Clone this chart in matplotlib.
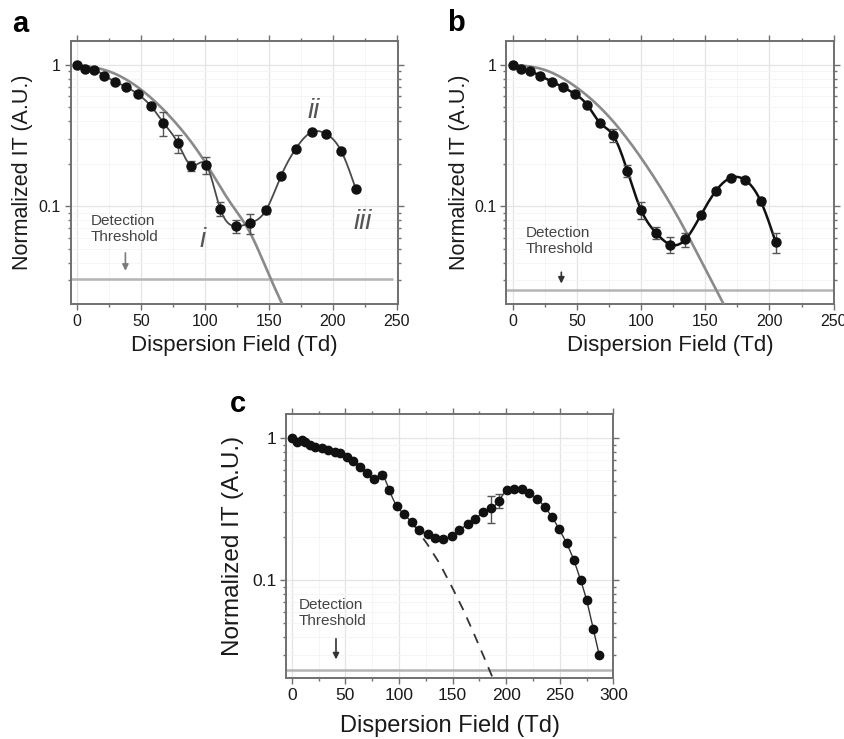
import numpy as np
import matplotlib
matplotlib.use('Agg')
import matplotlib.pyplot as plt
from matplotlib.ticker import MultipleLocator, LogLocator, NullFormatter

plt.rcParams['font.family'] = ['Liberation Sans', 'DejaVu Sans']

# ---------------- data ----------------
# panel a
a_x = [0, 6.5, 13.8, 21.6, 30, 38.5, 47.7, 58, 67.7, 78.9, 89.6, 101.3, 112, 124.2,
       135.4, 147.7, 159.4, 171, 183.6, 194.5, 206.3, 218]
a_y = [1.0, 0.937, 0.92, 0.84, 0.76, 0.70, 0.62, 0.51, 0.39, 0.28, 0.194, 0.195, 0.0964,
       0.0723, 0.0762, 0.0937, 0.163, 0.255, 0.335, 0.326, 0.248, 0.132]
a_err = [0.01, 0.012, 0.012, 0.012, 0.012, 0.012, 0.012, 0.015, 0.075, 0.04, 0.015, 0.027,
         0.011, 0.008, 0.012, 0.005, 0.004, 0.005, 0.006, 0.006, 0.005, 0.003]
a_model_x = [0, 25, 50, 75, 100, 120, 135, 150, 162]
a_model_y = [1.0, 0.90, 0.67, 0.41, 0.207, 0.106, 0.066, 0.033, 0.0190]
a_thresh = 0.0307

# panel b
b_x = [0, 6.7, 13.8, 21.5, 30.4, 39.2, 48.3, 57.9, 68.3, 78.1, 89.3, 99.9, 111.6, 122.8,
       134.5, 146.4, 158.1, 169.8, 181.2, 193.1, 204.8]
b_y = [1.0, 0.937, 0.90, 0.836, 0.762, 0.695, 0.623, 0.523, 0.386, 0.319, 0.178, 0.0947,
       0.065, 0.0537, 0.0583, 0.0863, 0.128, 0.159, 0.153, 0.109, 0.0558]
b_err = [0.01, 0.012, 0.012, 0.012, 0.012, 0.012, 0.012, 0.015, 0.015, 0.032, 0.017, 0.013,
         0.006, 0.007, 0.0065, 0.004, 0.005, 0.005, 0.006, 0.006, 0.009]
b_model_x = [0, 25, 50, 75, 100, 120, 135, 150, 166]
b_model_y = [1.0, 0.92, 0.69, 0.43, 0.22, 0.115, 0.066, 0.036, 0.0190]
b_thresh = 0.0257

# panel c
c_x = [0, 4.7, 9.3, 12.4, 17.1, 21.7, 28, 34.2, 40.4, 45, 51.3, 57.5, 63.7, 70, 76.8, 84,
       91, 98, 104.8, 111.9, 119, 126.8, 134, 141.1, 149.2, 156.4, 164.1, 171.3, 178.7,
       185.9, 193.3, 200.5, 207.6, 214.5, 221.6, 229.1, 236.2, 243, 249.6, 256.4, 263.2,
       269.5, 275.1, 281.3, 286.9]
c_y = [1.0, 0.946, 0.973, 0.946, 0.897, 0.873, 0.85, 0.827, 0.805, 0.784, 0.742, 0.695,
       0.63, 0.572, 0.513, 0.551, 0.432, 0.333, 0.292, 0.255, 0.225, 0.21, 0.199, 0.195,
       0.205, 0.225, 0.247, 0.268, 0.304, 0.321, 0.363, 0.432, 0.441, 0.436, 0.409, 0.373,
       0.326, 0.277, 0.228, 0.182, 0.138, 0.1, 0.0722, 0.0451, 0.0296]
c_err = ([0.012] * 15 + [0.03, 0.02] + [0.006] * 12 + [0.07, 0.04] + [0.006] * 7
         + [0.004] * 3 + [0.002, 0.0015, 0.001, 0.0008])
c_model_x = [113, 127, 138, 150, 160, 170, 180, 190]
c_model_y = [0.25, 0.177, 0.131, 0.088, 0.062, 0.042, 0.028, 0.0185]
c_thresh = 0.0235

roman_labels = ['i', 'ii', 'iii']
roman_x = [98, 185, 223]
roman_y = [0.058, 0.469, 0.078]


# ---------------- helpers ----------------
def spline(x, y, n=500):
    """Natural cubic spline through points, in (x, log10 y) space (line style)."""
    x = np.asarray(x, float)
    ly = np.log10(np.asarray(y, float))
    m = len(x)
    h = np.diff(x)
    A = np.zeros((m, m))
    r = np.zeros(m)
    A[0, 0] = A[-1, -1] = 1.0
    for i in range(1, m - 1):
        A[i, i - 1] = h[i - 1]
        A[i, i] = 2 * (h[i - 1] + h[i])
        A[i, i + 1] = h[i]
        r[i] = 6 * ((ly[i + 1] - ly[i]) / h[i] - (ly[i] - ly[i - 1]) / h[i - 1])
    M = np.linalg.solve(A, r)
    xs = np.linspace(x[0], x[-1], n)
    idx = np.clip(np.searchsorted(x, xs) - 1, 0, m - 2)
    x0, x1 = x[idx], x[idx + 1]
    hh = x1 - x0
    t0, t1 = x1 - xs, xs - x0
    ys = (M[idx] * t0 ** 3 / (6 * hh) + M[idx + 1] * t1 ** 3 / (6 * hh)
          + (ly[idx] / hh - M[idx] * hh / 6) * t0 + (ly[idx + 1] / hh - M[idx + 1] * hh / 6) * t1)
    return xs, 10 ** ys


def style(ax, xlim, tick_fs):
    ax.set_yscale('log')
    ax.set_xlim(*xlim)
    ax.set_ylim(0.0204, 1.48)
    ax.xaxis.set_major_locator(MultipleLocator(50))
    ax.xaxis.set_minor_locator(MultipleLocator(25))
    ax.set_yticks([0.1, 1])
    ax.set_yticklabels(['0.1', '1'])
    ax.yaxis.set_minor_locator(LogLocator(base=10, subs=np.arange(2, 10)))
    ax.yaxis.set_minor_formatter(NullFormatter())
    ax.tick_params(which='both', direction='out', top=True, right=True,
                   color='#707070', labelcolor='#1a1a1a', labelsize=tick_fs, width=1.0)
    ax.tick_params(which='major', length=4, pad=3)
    ax.tick_params(which='minor', length=2.5)
    ax.grid(which='major', color='#e4e4e4', lw=0.9)
    ax.grid(which='minor', color='#f4f4f4', lw=0.6)
    ax.set_axisbelow(True)
    for s in ax.spines.values():
        s.set_color('#707070')
        s.set_linewidth(1.4)


fig = plt.figure(figsize=(8.44, 7.39), dpi=100)
axA = fig.add_axes([0.0838, 0.5886, 0.3878, 0.3563])
axB = fig.add_axes([0.5995, 0.5886, 0.3883, 0.3563])
axC = fig.add_axes([0.3389, 0.0821, 0.3878, 0.3577])

# ---- panel a ----
style(axA, (-4.7, 250.9), 11.5)
axA.hlines(a_thresh, -4.7, 247, color='#b4b4b4', lw=1.8, zorder=2)
mx, my = spline(a_model_x, a_model_y)
axA.plot(mx, my, color='#8a8a8a', lw=1.9, zorder=3)
sx, sy = spline(a_x, a_y)
axA.plot(sx, sy, color='#4a4a4a', lw=1.3, zorder=4)
axA.errorbar(a_x, a_y, yerr=a_err, fmt='none', ecolor='#555555', elinewidth=1.0,
             capsize=3, capthick=1.0, zorder=5)
axA.plot(a_x, a_y, 'o', color='#111111', ms=6.5, zorder=6)
for lab, rx, ry in zip(roman_labels, roman_x, roman_y):
    axA.text(rx, ry, lab, fontsize=20, style='italic', color='#555555',
             ha='center', va='center')
axA.text(11, 0.0695, 'Detection\nThreshold', fontsize=11, color='#444444',
         ha='left', va='center', linespacing=1.2)
axA.annotate('', xy=(38, 0.0335), xytext=(38, 0.049),
             arrowprops=dict(arrowstyle='-|>', color='#7a7a7a', lw=1.2, mutation_scale=9))

# ---- panel b ----
style(axB, (-5.2, 250), 11.5)
axB.axhline(b_thresh, color='#b4b4b4', lw=1.8, zorder=2)
mx, my = spline(b_model_x, b_model_y)
axB.plot(mx, my, color='#8a8a8a', lw=1.9, zorder=3)
sx, sy = spline(b_x, b_y)
axB.plot(sx, sy, color='#111111', lw=1.8, zorder=4)
axB.errorbar(b_x, b_y, yerr=b_err, fmt='none', ecolor='#555555', elinewidth=1.0,
             capsize=3, capthick=1.0, zorder=5)
axB.plot(b_x, b_y, 'o', color='#111111', ms=6.5, zorder=6)
axB.text(9.9, 0.0567, 'Detection\nThreshold', fontsize=11, color='#444444',
         ha='left', va='center', linespacing=1.2)
axB.annotate('', xy=(37.9, 0.0272), xytext=(37.9, 0.0358),
             arrowprops=dict(arrowstyle='-|>', color='#333333', lw=1.2, mutation_scale=9))

# ---- panel c ----
style(axC, (-5.3, 300), 12.5)
axC.axhline(c_thresh, color='#b4b4b4', lw=1.8, zorder=2)
axC.plot(c_model_x, c_model_y, color='#333333', lw=1.3, ls=(0, (5.5, 4.5)), zorder=3)
sx, sy = spline(c_x, c_y)
axC.plot(sx, sy, color='#333333', lw=1.0, zorder=4)
axC.errorbar(c_x, c_y, yerr=c_err, fmt='none', ecolor='#555555', elinewidth=1.0,
             capsize=3, capthick=1.0, zorder=5)
axC.plot(c_x, c_y, 'o', color='#111111', ms=6.0, zorder=6)
axC.text(6.2, 0.0585, 'Detection\nThreshold', fontsize=11, color='#444444',
         ha='left', va='center', linespacing=1.2)
axC.annotate('', xy=(41.3, 0.0265), xytext=(41.3, 0.0405),
             arrowprops=dict(arrowstyle='-|>', color='#333333', lw=1.2, mutation_scale=9))

# ---- axis labels ----
for ax, yx, xy, fs_y, fs_x in [(axA, -0.146, -0.158, 15.5, 16),
                               (axB, -0.142, -0.158, 15.5, 16),
                               (axC, -0.162, -0.18, 17.5, 17)]:
    ax.set_ylabel('Normalized IT (A.U.)', fontsize=fs_y, color='#1a1a1a')
    ax.set_xlabel('Dispersion Field (Td)', fontsize=fs_x, color='#1a1a1a')
    ax.yaxis.set_label_coords(yx, 0.5)
    ax.xaxis.set_label_coords(0.5, xy)
    ax.yaxis.label.set_va('center')
    ax.xaxis.label.set_va('center')

# ---- panel letters ----
fig.text(20 / 844, 1 - 24 / 739, 'a', fontsize=21, fontweight='bold', ha='center', va='center')
fig.text(456 / 844, 1 - 23 / 739, 'b', fontsize=21, fontweight='bold', ha='center', va='center')
fig.text(238 / 844, 1 - 404 / 739, 'c', fontsize=21, fontweight='bold', ha='center', va='center')

fig.savefig('out.png', dpi=100)
